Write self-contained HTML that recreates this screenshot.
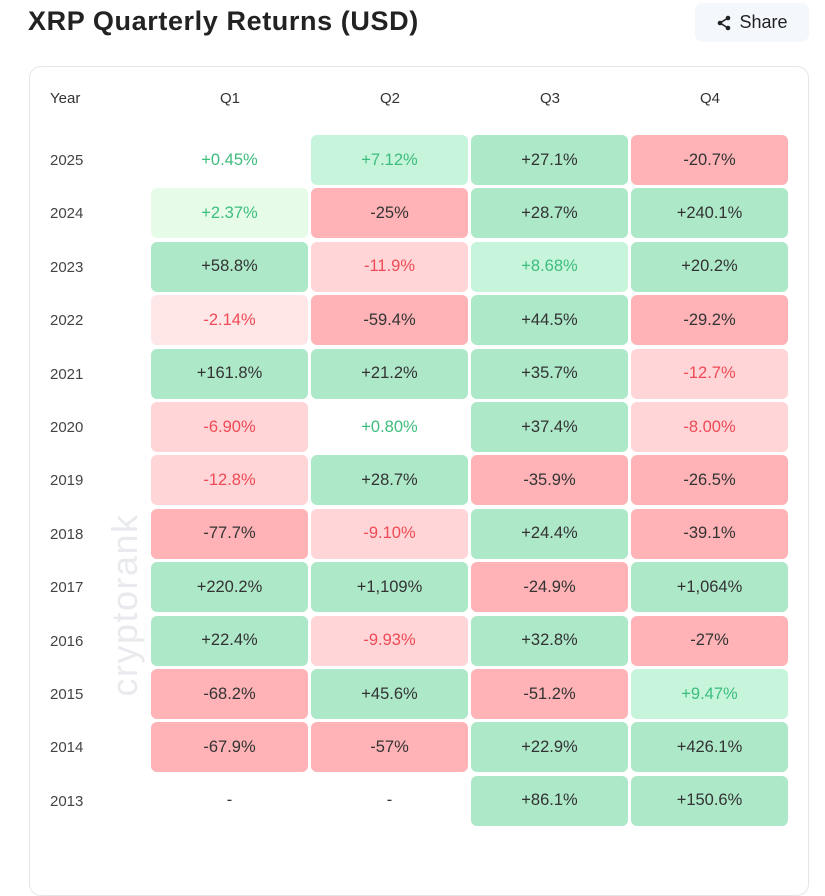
<!DOCTYPE html>
<html><head><meta charset="utf-8"><style>
*{margin:0;padding:0;box-sizing:border-box}
body{width:825px;height:865px;background:#fff;font-family:"Liberation Sans",sans-serif;position:relative;overflow:hidden;color:#222}
.title{position:absolute;left:28px;top:6px;font-size:27px;font-weight:bold;color:#222;letter-spacing:0.6px}
.share{position:absolute;left:695px;top:3px;width:114px;height:39px;background:#f4f7fb;border-radius:8px;font-size:18px;color:#222;display:flex;align-items:center;justify-content:center;gap:7px}
.card{position:absolute;left:29px;top:66px;width:780px;height:830px;border:1px solid #e3e6ea;border-radius:12px}
.h{position:absolute;top:90px;font-size:15px;color:#333}
.y{position:absolute;left:50px;font-size:15px;color:#444}
.c{position:absolute;width:157px;height:50px;border-radius:6px;display:flex;align-items:center;justify-content:center;font-size:16.5px;color:#333}
.G{background:#ade8c9}.g{background:#c6f5db;color:#3dbd7d}.v{background:#e6fbe8;color:#3dbd7d}.n{color:#3dbd7d}
.R{background:#ffb3b6}.r{background:#ffd5d7;color:#ef4a55}.w{background:#ffe7e8;color:#ef4a55}.d{color:#333}
.wm{position:absolute;left:125px;top:605px;transform:translate(-50%,-50%) rotate(-90deg);font-size:36px;color:#e8eaed;letter-spacing:1.5px}
</style></head><body>
<div class="title">XRP Quarterly Returns (USD)</div>
<div class="share"><svg width="16" height="16" viewBox="0 0 16 16"><circle cx="12" cy="3" r="2.3" fill="#222"/><circle cx="4" cy="8" r="2.3" fill="#222"/><circle cx="12" cy="13" r="2.3" fill="#222"/><path d="M12 3L4 8L12 13" stroke="#222" stroke-width="1.6" fill="none"/></svg>Share</div>
<div class="card"></div>
<div class="wm">cryptorank</div>
<div class="h" style="left:50px">Year</div>
<div class="h" style="left:220px">Q1</div>
<div class="h" style="left:380px">Q2</div>
<div class="h" style="left:540px">Q3</div>
<div class="h" style="left:700px">Q4</div>
<div id="t"></div>
<script>
var rows=[["2025",["n","+0.45%"],["g","+7.12%"],["G","+27.1%"],["R","-20.7%"]],
["2024",["v","+2.37%"],["R","-25%"],["G","+28.7%"],["G","+240.1%"]],
["2023",["G","+58.8%"],["r","-11.9%"],["g","+8.68%"],["G","+20.2%"]],
["2022",["w","-2.14%"],["R","-59.4%"],["G","+44.5%"],["R","-29.2%"]],
["2021",["G","+161.8%"],["G","+21.2%"],["G","+35.7%"],["r","-12.7%"]],
["2020",["r","-6.90%"],["n","+0.80%"],["G","+37.4%"],["r","-8.00%"]],
["2019",["r","-12.8%"],["G","+28.7%"],["R","-35.9%"],["R","-26.5%"]],
["2018",["R","-77.7%"],["r","-9.10%"],["G","+24.4%"],["R","-39.1%"]],
["2017",["G","+220.2%"],["G","+1,109%"],["R","-24.9%"],["G","+1,064%"]],
["2016",["G","+22.4%"],["r","-9.93%"],["G","+32.8%"],["R","-27%"]],
["2015",["R","-68.2%"],["G","+45.6%"],["R","-51.2%"],["g","+9.47%"]],
["2014",["R","-67.9%"],["R","-57%"],["G","+22.9%"],["G","+426.1%"]],
["2013",["d","-"],["d","-"],["G","+86.1%"],["G","+150.6%"]]];
var h="";rows.forEach(function(r,i){var t=135+i*53.4;
h+='<div class="y" style="top:'+(t+17)+'px">'+r[0]+'</div>';
for(var j=1;j<5;j++){h+='<div class="c '+r[j][0]+'" style="left:'+(151+(j-1)*160)+'px;top:'+t+'px">'+r[j][1]+'</div>';}});
document.getElementById("t").innerHTML=h;
</script>
</body></html>
